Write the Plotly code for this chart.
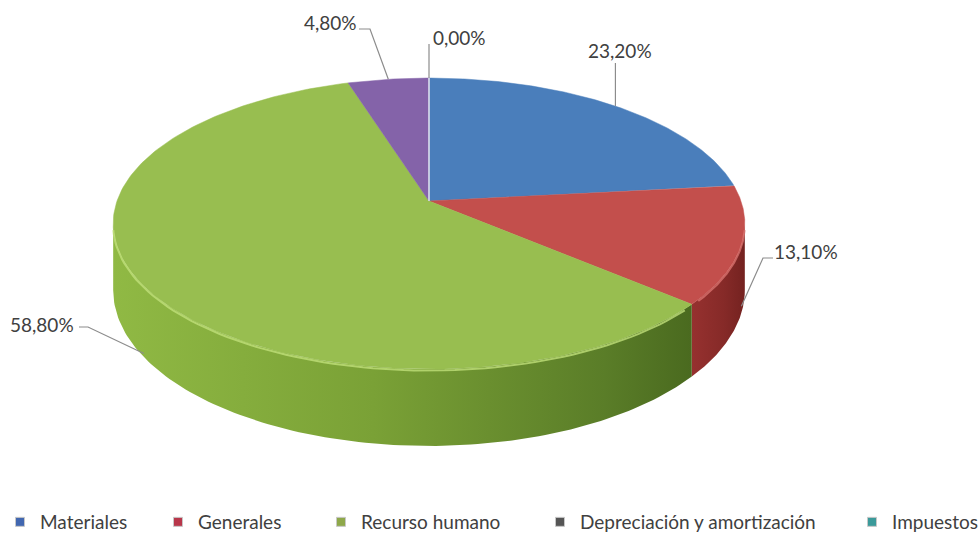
import numpy as np
import plotly.graph_objects as go

# ---- data ----
categories = ["Materiales", "Generales", "Recurso humano",
              "Depreciación y amortización", "Impuestos"]
values = [23.2, 13.1, 58.8, 4.8, 0.0]

# ---- styling ----
top_colors = ["#4a7ebb", "#c34f4c", "#98be50", "#8463a9", "#4bacc6"]
side_scales = [
    [[0, "#3a6699"], [1, "#2c4f7a"]],
    [[0, "#96312f"], [0.6, "#862a28"], [1, "#742220"]],
    [[0, "#90b944"], [0.45, "#7aa136"], [0.85, "#5a7d28"], [1, "#4a6a1f"]],
    [[0, "#6a4f8c"], [1, "#54406f"]],
    [[0, "#3f90a6"], [1, "#327385"]],
]
rim_highlight = ["#7ba3d6", "#d9716d", "#c0e07a", "#a587c6", "#7fcbe0"]
legend_colors = ["#4167b0", "#b8364a", "#8ea84a", "#555555", "#3b9a9a"]

W, H_PX = 978, 536
CX, CY = 429.0, 201.0      # projected centre of the top face
A, B = 312.0, 142.0        # semi-axes of the top ellipse
K = 0.155                  # perspective factor (far side shrinks)
DEPTH = 65.0               # thickness of the disc

FONT = "Lato"
FONT_SIZE = 19
TEXT_COLOR = "#404040"

# label placement (text centre, leader path on the text side, anchor depth)
label_pos = [(620, 50), (806, 251), (42, 324), (330, 22), (459, 37)]
leader_start = [
    [(617, 63)],
    [(773, 258), (763, 258)],
    [(79, 327), (88, 327)],
    [(359, 29), (370, 29)],
    [(429, 44)],
]
anchor_depth = [0.0, 0.9, 0.95, 0.0, 0.0]

# left edge (px) of each legend entry along the bottom row
legend_left = [0, 158, 321, 540, 852]
LEGEND_Y = 522


def rim(theta_deg):
    t = np.radians(theta_deg)
    s = 1.0 / (1.0 + K * np.cos(t))
    return CX + A * np.sin(t) * s, CY - B * np.cos(t) * s, s


total = sum(values)
bounds = np.concatenate([[0.0], np.cumsum(values) / total * 360.0])

# silhouette angles of the disc side (where the rim is vertical)
theta_r = np.degrees(np.arccos(-K))
theta_l = 360.0 - theta_r

fig = go.Figure()

# ---- side walls (front half only) ----
for i, cat in enumerate(categories):
    lo, hi = max(bounds[i], theta_r), min(bounds[i + 1], theta_l)
    if hi <= lo:
        continue
    th = np.linspace(lo, hi, 120)
    x, y, s = rim(th)
    yb = y + DEPTH * s
    px = np.concatenate([x, x[::-1]])
    py = np.concatenate([y, yb[::-1]])
    fig.add_trace(go.Scatter(
        x=px, y=py, mode="lines", fill="toself",
        line=dict(width=0, color=top_colors[i]),
        fillgradient=dict(type="horizontal", colorscale=side_scales[i],
                          start=float(x.min()), stop=float(x.max())),
        hoverinfo="skip", showlegend=False))

# ---- top face slices ----
for i, cat in enumerate(categories):
    th = np.linspace(bounds[i], bounds[i + 1], 200)
    x, y, _ = rim(th)
    px = np.concatenate([[CX], x, [CX]])
    py = np.concatenate([[CY], y, [CY]])
    if values[i] == 0:
        fig.add_trace(go.Scatter(
            x=px, y=py, mode="lines", line=dict(color="#dfe8f2", width=1.5),
            hoverinfo="skip", showlegend=False))
        continue
    fig.add_trace(go.Scatter(
        x=px, y=py, mode="lines", fill="toself", fillcolor=top_colors[i],
        line=dict(width=0.5, color=top_colors[i]),
        hoverinfo="text", text=cat, showlegend=False))

# ---- soft highlight along the front rim ----
for i, cat in enumerate(categories):
    lo, hi = max(bounds[i], theta_r), min(bounds[i + 1], theta_l)
    if hi <= lo:
        continue
    th = np.linspace(lo + 2, hi - 2, 80)
    x, y, _ = rim(th)
    fig.add_trace(go.Scatter(
        x=x, y=y + 1.5, mode="lines", line=dict(color=rim_highlight[i], width=2),
        opacity=0.8, hoverinfo="skip", showlegend=False))

# ---- labels with leader lines ----
for i, cat in enumerate(categories):
    mid = (bounds[i] + bounds[i + 1]) / 2.0
    ax, ay, s = rim(mid)
    ay = ay + anchor_depth[i] * DEPTH * s
    pts = leader_start[i] + [(ax, ay)]
    if len(leader_start[i]) == 1:
        pts = [(ax, leader_start[i][0][1]), (ax, ay)]
    fig.add_trace(go.Scatter(
        x=[p[0] for p in pts], y=[p[1] for p in pts], mode="lines",
        line=dict(color="#8c8c8c", width=1.2),
        hoverinfo="skip", showlegend=False))
    txt = f"{values[i]:.2f}".replace(".", ",") + "%"
    fig.add_annotation(x=label_pos[i][0], y=label_pos[i][1], text=txt,
                       showarrow=False, xanchor="center", yanchor="middle",
                       font=dict(family=FONT, size=FONT_SIZE, color=TEXT_COLOR))

# ---- legend: one entry per category, spread along the bottom ----
legends = {}
for i, cat in enumerate(categories):
    key = "legend" if i == 0 else f"legend{i + 1}"
    fig.add_trace(go.Scatter(
        x=[None], y=[None], mode="markers", name=cat, legend=key,
        marker=dict(symbol="square", size=9, color=legend_colors[i],
                    line=dict(color="#c8c8c8", width=1))))
    legends[key] = dict(
        orientation="h", x=legend_left[i] / W, xanchor="left",
        y=1 - LEGEND_Y / H_PX, yanchor="middle",
        font=dict(family=FONT, size=FONT_SIZE, color=TEXT_COLOR),
        itemwidth=30, bgcolor="rgba(0,0,0,0)", borderwidth=0)

fig.update_layout(
    width=W, height=H_PX,
    margin=dict(l=0, r=0, t=0, b=0, autoexpand=False),
    paper_bgcolor="white", plot_bgcolor="white",
    xaxis=dict(range=[0, W], visible=False, fixedrange=True),
    yaxis=dict(range=[H_PX, 0], visible=False, fixedrange=True),
    showlegend=True,
    **legends,
)

fig.write_html("out.html")
